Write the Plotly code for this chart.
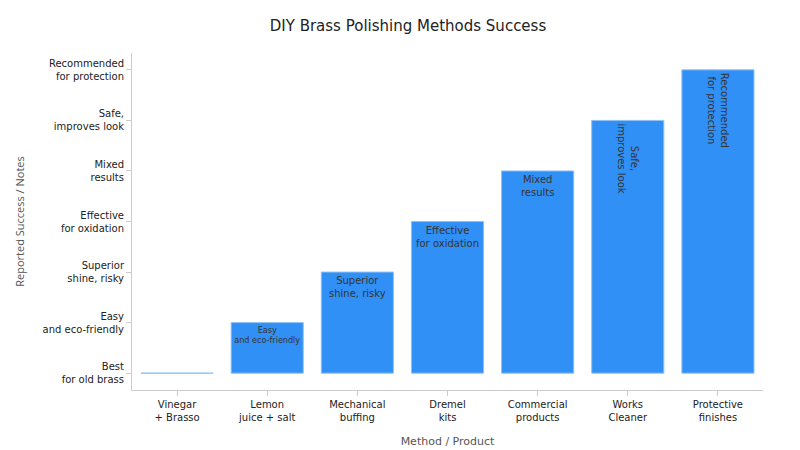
import plotly.graph_objects as go

# Datos
methods = ["Vinegar<br>+ Brasso", "Lemon<br>juice + salt", "Mechanical<br>buffing", "Dremel<br>kits",
           "Commercial<br>products", "Works<br>Cleaner", "Protective<br>finishes"]
notes = ["Best<br>for old brass", "Easy<br>and eco-friendly", "Superior<br>shine, risky",
         "Effective<br>for oxidation", "Mixed<br>results", "Safe,<br>improves look",
         "Recommended<br>for protection"]

fig = go.Figure(go.Bar(
    x=methods,
    y=notes,
    text=notes,
    textposition="inside",
    insidetextanchor="end",
    textfont=dict(color="#333333", size=10),
    marker=dict(color="#3190f5", line=dict(color="#8fc0f5", width=1)),
))

fig.update_layout(
    title=dict(text="DIY Brass Polishing Methods Success", x=0.5, xanchor="center",
               font=dict(size=15, color="#222222")),
    font=dict(family="DejaVu Sans", size=10, color="#222222"),
    plot_bgcolor="white",
    paper_bgcolor="white",
    width=800, height=450,
    margin=dict(l=110, r=45, t=45, b=45),
    bargap=0.2,
    xaxis=dict(title=dict(text="Method / Product", font=dict(color="#555555", size=11)),
               showline=True, linecolor="#cccccc", ticks="outside", tickcolor="#cccccc"),
    yaxis=dict(title=dict(text="Reported Success / Notes", font=dict(family="Open Sans", color="#555555", size=11)),
               categoryorder="array", categoryarray=notes,
               showline=True, linecolor="#cccccc", ticks="outside", tickcolor="#cccccc",
               showgrid=False),
)

fig.write_html("out.html")
